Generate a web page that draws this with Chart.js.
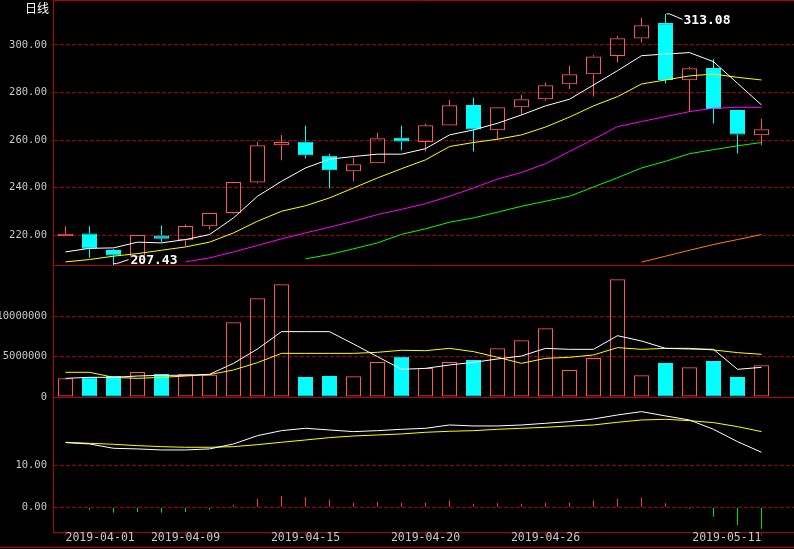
<!DOCTYPE html>
<html><head><meta charset="utf-8">
<script src="https://cdn.jsdelivr.net/npm/chart.js@4.4.1/dist/chart.umd.min.js"></script>
<style>
html,body{margin:0;padding:0;background:#000;width:794px;height:549px;overflow:hidden;}
#wrap{position:relative;width:794px;height:549px;background:#000;}
#c{position:absolute;left:0;top:0;}
#title{position:absolute;left:25px;top:1px;color:#fff;font-family:"Noto Sans CJK SC";font-size:12px;line-height:14px;}
</style></head><body>
<div id="wrap"><canvas id="c" width="794" height="549"></canvas><div id="title">日线</div></div>
<script>
// ---- data ----
const dates = ['2019-04-01','2019-04-02','2019-04-03','2019-04-04','2019-04-08','2019-04-09','2019-04-10','2019-04-11','2019-04-12','2019-04-14','2019-04-15','2019-04-16','2019-04-17','2019-04-18','2019-04-19','2019-04-20','2019-04-21','2019-04-22','2019-04-23','2019-04-25','2019-04-26','2019-04-27','2019-04-28','2019-04-29','2019-04-30','2019-05-02','2019-05-05','2019-05-07','2019-05-09','2019-05-11'];
const labelIdx = [0, 5, 10, 15, 20, 29];
const open  = [219.6,220.7,213.8,211.0,219.9,217.9,223.8,229.4,242.2,257.8,259.3,253.4,246.9,250.3,261.0,259.2,266.2,274.8,264.2,273.8,277.2,283.5,287.7,295.4,302.7,309.2,285.2,290.3,272.7,262.1];
const high  = [223.8,223.8,214.2,220.2,224.1,224.5,229.5,242.5,259.2,262.2,266.0,254.3,252.6,263.1,266.0,266.9,276.9,277.8,273.9,279.0,284.2,291.2,295.8,303.8,311.3,313.08,290.9,294.0,272.8,269.0];
const low   = [219.5,210.5,207.43,211.0,217.1,215.4,222.4,229.1,241.8,251.5,252.3,239.7,242.7,250.2,255.7,255.2,266.1,255.2,260.1,270.6,276.6,281.5,278.3,292.6,301.0,283.9,271.9,267.0,254.4,257.8];
const close = [220.6,214.3,211.5,220.1,218.5,223.9,229.4,242.4,257.9,259.2,253.6,247.3,249.9,260.8,259.4,266.3,274.7,264.5,273.8,277.2,283.1,287.7,295.2,302.8,308.3,285.3,290.2,273.1,262.4,264.6];
const ma5  = [213.0,214.5,214.7,217.1,216.8,218.2,220.3,227.3,236.4,242.7,248.3,252.0,253.1,254.1,254.1,256.4,262.2,264.3,267.1,270.6,274.4,277.2,283.2,289.2,295.5,296.2,296.8,293.0,283.9,274.8];
const ma10 = [208.8,209.8,211.2,212.3,213.7,215.1,217.1,221.0,225.9,230.1,232.4,235.7,239.9,244.1,248.0,251.7,257.3,259.0,260.4,262.2,265.5,269.7,274.4,278.3,283.6,285.3,287.0,287.8,286.4,285.3];
const ma20 = [null,null,null,null,null,208.8,210.5,213.0,215.7,218.5,221.0,223.4,225.9,228.7,230.9,233.3,236.4,239.9,243.6,246.4,250.1,255.2,260.4,265.7,267.8,269.9,272.0,273.4,273.8,273.8];
const ma30 = [null,null,null,null,null,null,null,null,null,null,210.1,211.9,214.3,216.8,220.4,222.7,225.5,227.3,229.7,232.2,234.3,236.4,240.3,244.2,248.3,251.1,254.3,256.0,257.6,259.0];
const ma60 = [null,null,null,null,null,null,null,null,null,null,null,null,null,null,null,null,null,null,null,null,null,null,null,null,208.7,211.2,213.7,216.1,218.2,220.3];
const volume = [2310000,2440000,2600000,3100000,2850000,2850000,2770000,9260000,12230000,13970000,2480000,2600000,2560000,4340000,5000000,3600000,4340000,4590000,6030000,7020000,8510000,3350000,4830000,14590000,2690000,4210000,3680000,4460000,2480000,3930000];
const volMa5  = [2310000,2440000,2440000,2600000,2690000,2690000,2810000,4170000,5950000,8100000,8100000,8100000,6570000,5000000,3430000,3550000,3970000,4300000,4710000,5080000,6030000,5910000,5910000,7600000,6940000,6030000,5950000,5910000,3430000,3680000];
const volMa10 = [3060000,3060000,2440000,2310000,2440000,2600000,2770000,3350000,4260000,5410000,5410000,5410000,5410000,5540000,5790000,5740000,6030000,5620000,4920000,4170000,4790000,4920000,5210000,6120000,5910000,6030000,6030000,5830000,5500000,5290000];
const difLine = [15.4,15.08,14.05,13.9,13.65,13.65,13.9,15.08,17.06,18.25,18.81,18.41,18.02,18.25,18.57,18.81,19.6,19.37,19.37,19.6,20.0,20.4,21.03,21.98,22.78,21.75,20.79,18.57,15.63,13.1];
const deaLine = [15.48,15.24,15.0,14.68,14.44,14.29,14.29,14.44,14.92,15.48,16.03,16.59,16.98,17.22,17.46,17.86,18.1,18.25,18.57,18.81,19.05,19.37,19.6,20.24,20.79,20.95,20.63,20.16,19.21,18.02];
const macdHist = [0,-0.6,-1.27,-1.1,-1.27,-1.1,-0.6,0.56,2.06,2.7,2.46,1.83,1.11,1.35,1.11,1.11,1.59,0.87,0.95,0.87,1.11,1.11,1.59,2.06,2.3,0.95,-0.32,-2.22,-4.2,-5.08];
const priceTicks = [220, 240, 260, 280, 300];
const volTicks = [0, 5000000, 10000000];
const indTicks = [0, 10];

// ---- styles ----
const RED = '#ff5757', CYAN = '#00ffff', GRID = '#a00000', AXIS = '#b40000', TXT = '#c8c8c8';
const MONO = 'DejaVu Sans Mono';
Chart.defaults.font.family = MONO;

const isUp = close.map((c, i) => c >= open[i]);
const candleColor = isUp.map(u => u ? RED : CYAN);
const bodyFill = isUp.map(u => u ? 'rgba(0,0,0,0)' : CYAN);
const xy = arr => arr.map((v, i) => ({x: i, y: v}));
const line = (data, color, axis) => ({type: 'line', data: xy(data), yAxisID: axis, borderColor: color, borderWidth: 1, pointRadius: 0, tension: 0, fill: false, order: 1});
const barBase = {type: 'bar', grouped: false, inflateAmount: 0, borderSkipped: false};

const setTicks = vals => s => { s.ticks = vals.map(v => ({value: v})); };
const fixY = s => { s.width = 53; s.paddingTop = 0; s.paddingBottom = 0; };
const yAxis = (weight, stackWeight, min, max, vals, fmt) => ({
  type: 'linear', position: 'left', stack: 's', stackWeight, weight, min, max,
  afterBuildTicks: setTicks(vals), afterFit: fixY,
  ticks: {callback: fmt, color: TXT, font: {family: MONO, size: 10.5}, padding: 6, autoSkip: false},
  grid: {color: GRID, lineWidth: 1, drawTicks: false, offset: false},
  border: {display: true, color: AXIS, dash: [4, 2]}
});

const framePlugin = {
  id: 'frame',
  beforeDatasetsDraw(chart) {
    const {ctx, chartArea, scales} = chart;
    ctx.save();
    ctx.strokeStyle = AXIS; ctx.lineWidth = 1; ctx.setLineDash([]);
    ctx.beginPath();
    ctx.moveTo(chartArea.left, 0.5); ctx.lineTo(chart.width, 0.5);
    const y1 = Math.round(scales.yPrice.bottom) + 0.5;
    ctx.moveTo(chartArea.left, y1); ctx.lineTo(chartArea.right, y1);
    const y2 = Math.round(scales.yVol.bottom) + 0.5;
    ctx.moveTo(chartArea.left, y2); ctx.lineTo(chartArea.right, y2);
    ctx.moveTo(0, chart.height - 1.5); ctx.lineTo(chart.width, chart.height - 1.5);
    ctx.stroke();
    ctx.restore();
  },
  afterDatasetsDraw(chart) {
    const {ctx, scales: {x, yPrice}} = chart;
    const hi = Math.max(...high), lo = Math.min(...low);
    const iHi = high.indexOf(hi), iLo = low.indexOf(lo);
    ctx.save();
    ctx.strokeStyle = '#fff'; ctx.fillStyle = '#fff'; ctx.lineWidth = 1;
    ctx.font = 'bold 13px "' + MONO + '"';
    ctx.textBaseline = 'middle'; ctx.textAlign = 'left';
    let px = Math.round(x.getPixelForValue(iHi)) + 0.5, py = yPrice.getPixelForValue(hi);
    ctx.beginPath(); ctx.moveTo(px, py); ctx.lineTo(px + 3, py); ctx.lineTo(px + 16, py + 5.5); ctx.stroke();
    ctx.fillText(hi.toFixed(2), px + 17, py + 6.8);
    px = Math.round(x.getPixelForValue(iLo)) + 0.5; py = yPrice.getPixelForValue(lo);
    ctx.beginPath(); ctx.moveTo(px, py - 1.5); ctx.lineTo(px + 3, py - 1.5); ctx.lineTo(px + 15, py - 5.5); ctx.stroke();
    ctx.fillText(lo.toFixed(2), px + 17, py - 4.8);
    ctx.restore();
  }
};

new Chart(document.getElementById('c'), {
  type: 'bar',
  data: {
    datasets: [
      line(ma5, '#ffffff', 'yPrice'),
      line(ma10, '#ffff00', 'yPrice'),
      line(ma20, '#ff00ff', 'yPrice'),
      line(ma30, '#00ff00', 'yPrice'),
      line(ma60, '#ff8000', 'yPrice'),
      line(volMa5, '#ffffff', 'yVol'),
      line(volMa10, '#ffff00', 'yVol'),
      line(difLine, '#ffffff', 'yInd'),
      line(deaLine, '#ffff00', 'yInd'),
      Object.assign({}, barBase, {data: open.map((o, i) => ({x: i, y: [o, close[i]]})), yAxisID: 'yPrice',
        backgroundColor: bodyFill, borderColor: candleColor, borderWidth: 1, barThickness: 15, order: 2}),
      Object.assign({}, barBase, {data: high.map((h, i) => ({x: i, y: [Math.max(open[i], close[i]), h]})), yAxisID: 'yPrice',
        backgroundColor: candleColor, borderWidth: 0, barThickness: 1, order: 3}),
      Object.assign({}, barBase, {data: low.map((l, i) => ({x: i, y: [l, Math.min(open[i], close[i])]})), yAxisID: 'yPrice',
        backgroundColor: candleColor, borderWidth: 0, barThickness: 1, order: 3}),
      Object.assign({}, barBase, {data: xy(volume), yAxisID: 'yVol',
        backgroundColor: bodyFill, borderColor: candleColor, borderWidth: 1, barThickness: 15, order: 2}),
      Object.assign({}, barBase, {data: xy(macdHist), yAxisID: 'yInd',
        backgroundColor: macdHist.map(v => v >= 0 ? '#ff3434' : '#00e000'), borderWidth: 0, barThickness: 1, order: 2})
    ]
  },
  options: {
    responsive: false, animation: false, events: [],
    layout: {padding: {top: 1, left: 0, right: 0, bottom: 0}},
    plugins: {legend: {display: false}, tooltip: {enabled: false}},
    scales: {
      x: {
        type: 'linear', position: 'bottom', min: -0.5208, max: 30.354, offset: false,
        afterBuildTicks: setTicks(labelIdx),
        afterFit: s => { s.height = 17; s.paddingLeft = 0; s.paddingRight = 0; },
        ticks: {callback: v => dates[v] ?? '', color: TXT, font: {family: MONO, size: 11.5}, align: 'inner',
                maxRotation: 0, minRotation: 0, autoSkip: false, padding: -5},
        grid: {drawOnChartArea: false, drawTicks: true, tickLength: 4, tickColor: AXIS, color: AXIS, offset: false},
        border: {display: true, color: AXIS}
      },
      yPrice: yAxis(3, 264, 207.5, 318.5, priceTicks, v => v.toFixed(2)),
      yVol: yAxis(2, 132, 0, 16360000, volTicks, v => String(v)),
      yInd: yAxis(1, 135, -5.88, 26.26, indTicks, v => v.toFixed(2))
    }
  },
  plugins: [framePlugin]
});
</script>
</body></html>
